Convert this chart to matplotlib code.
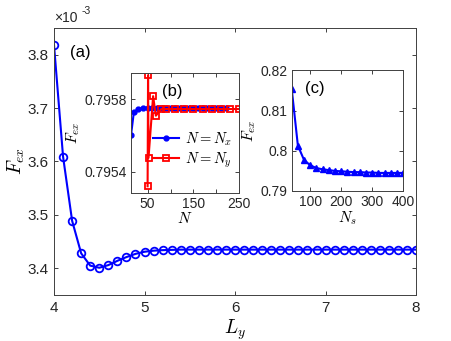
import matplotlib
matplotlib.use('Agg')
import matplotlib.pyplot as plt

plt.rcParams['font.family'] = ['Liberation Sans', 'DejaVu Sans']
plt.rcParams['mathtext.fontset'] = 'cm'

# main panel (a): F_ex (x1e-3) vs L_y
Ly = [4.0, 4.1, 4.2, 4.3, 4.4, 4.5, 4.6, 4.7, 4.8, 4.9,
      5.0, 5.1, 5.2, 5.3, 5.4, 5.5, 5.6, 5.7, 5.8, 5.9,
      6.0, 6.1, 6.2, 6.3, 6.4, 6.5, 6.6, 6.7, 6.8, 6.9,
      7.0, 7.1, 7.2, 7.3, 7.4, 7.5, 7.6, 7.7, 7.8, 7.9, 8.0]
Fex_a = [3.818, 3.609, 3.489, 3.428, 3.405, 3.401, 3.406, 3.414, 3.421, 3.427,
         3.431, 3.433, 3.434, 3.4345, 3.435, 3.435, 3.435, 3.435, 3.435, 3.435,
         3.435, 3.435, 3.435, 3.435, 3.435, 3.435, 3.435, 3.435, 3.435, 3.435,
         3.435, 3.435, 3.435, 3.435, 3.435, 3.435, 3.435, 3.435, 3.435, 3.435, 3.435]

# inset (b): convergence in N
Nx = [14, 20, 30, 40, 50, 60, 70, 80, 90, 100, 110, 120, 130, 140, 150,
      160, 170, 180, 190, 200, 210, 220]
Fex_nx = [0.795604, 0.795728, 0.795746, 0.795752, 0.795754, 0.795754, 0.795754,
          0.795754, 0.795754, 0.795754, 0.795754, 0.795754, 0.795754, 0.795754,
          0.795754, 0.795754, 0.795754, 0.795754, 0.795754, 0.795754, 0.795754,
          0.795754]
Ny = [50, 51, 52, 62, 68, 80, 90, 110, 130, 150, 170, 190, 210, 230, 250]
Fex_ny = [0.795319, 0.795933, 0.795476, 0.795817, 0.795709, 0.795746, 0.795746,
          0.795746, 0.795746, 0.795746, 0.795746, 0.795746, 0.795746, 0.795746,
          0.795746]

# inset (c): convergence in N_s
Ns = [40, 60, 80, 100, 120, 140, 160, 180, 200, 220, 240, 260, 280, 300,
      320, 340, 360, 380, 400]
Fex_ns = [0.8155, 0.8013, 0.7977, 0.7964, 0.7957, 0.7954, 0.7952, 0.7950,
          0.7949, 0.7948, 0.7947, 0.7947, 0.7946, 0.7946, 0.7945, 0.7945,
          0.7945, 0.7945, 0.7945]

spine_c = '0.25'

def style(ax, size=10, pad=3):
    for s in ax.spines.values():
        s.set_color(spine_c)
        s.set_linewidth(0.7)
    ax.tick_params(direction='in', top=True, right=True, length=3, width=0.7,
                   color=spine_c, labelsize=size, labelcolor='0.15', pad=pad)

fig = plt.figure(figsize=(4.52, 3.41), dpi=100)

ax = fig.add_axes([0.1195, 0.1349, 0.801, 0.783])
ax.plot(Ly, Fex_a, '-o', color='b', lw=1.5, ms=5.5, mfc='none', mew=1.3)
ax.set_xlim(4, 8)
ax.set_ylim(3.35, 3.85)
ax.set_xticks([4, 5, 6, 7, 8])
ax.set_yticks([3.4, 3.5, 3.6, 3.7, 3.8])
style(ax, 11, pad=4)
ax.set_xlabel('$L_y$', fontsize=14, labelpad=2)
ax.set_ylabel('$F_{ex}$', fontsize=14, labelpad=0)
ax.text(0.0, 1.012, '\u00d710', transform=ax.transAxes, fontsize=10,
        color='0.15', va='bottom', ha='left')
ax.text(0.075, 1.045, '-3', transform=ax.transAxes, fontsize=7.5,
        color='0.15', va='bottom', ha='left')
ax.text(0.045, 0.91, '(a)', transform=ax.transAxes, fontsize=12, va='center')

# inset b
axb = fig.add_axes([0.290, 0.4331, 0.2396, 0.3528])
axb.plot(Nx, Fex_nx, '-o', color='b', lw=1.5, ms=3.5, label='$N=N_x$')
axb.plot(Ny, Fex_ny, '-s', color='r', lw=1.5, ms=3.8, mfc='none', mew=1.3,
         label='$N=N_y$')
axb.set_xlim(14, 250)
axb.set_ylim(0.79528, 0.795945)
axb.set_xticks([50, 100, 150, 200, 250])
axb.set_xticklabels(['50', '', '150', '', '250'])
axb.set_yticks([0.7954, 0.7958])
axb.set_yticklabels(['0.7954', '0.7958'])
style(axb, 10)
axb.set_xlabel('$N$', fontsize=11, labelpad=0)
axb.set_ylabel('$F_{ex}$', fontsize=11, labelpad=2)
axb.text(0.283, 0.845, '(b)', transform=axb.transAxes, fontsize=12, va='center')
axb.legend(loc='center right', bbox_to_anchor=(1.03, 0.36), frameon=False,
           fontsize=10.5, handlelength=1.8, handletextpad=0.4,
           labelspacing=0.2, borderpad=0.2)

# inset c
axc = fig.add_axes([0.6453, 0.4399, 0.2469, 0.3534])
axc.plot(Ns, Fex_ns, '-^', color='b', lw=1.5, ms=5)
axc.set_xlim(40, 400)
axc.set_ylim(0.79, 0.82)
axc.set_xticks([100, 200, 300, 400])
axc.set_yticks([0.79, 0.80, 0.81, 0.82])
axc.set_yticklabels(['0.79', '0.8', '0.81', '0.82'])
style(axc, 10)
axc.set_xlabel('$N_s$', fontsize=11, labelpad=0)
axc.set_ylabel('$F_{ex}$', fontsize=11, labelpad=2)
axc.text(0.12, 0.852, '(c)', transform=axc.transAxes, fontsize=12, va='center')

fig.savefig('out.png', dpi=100)
